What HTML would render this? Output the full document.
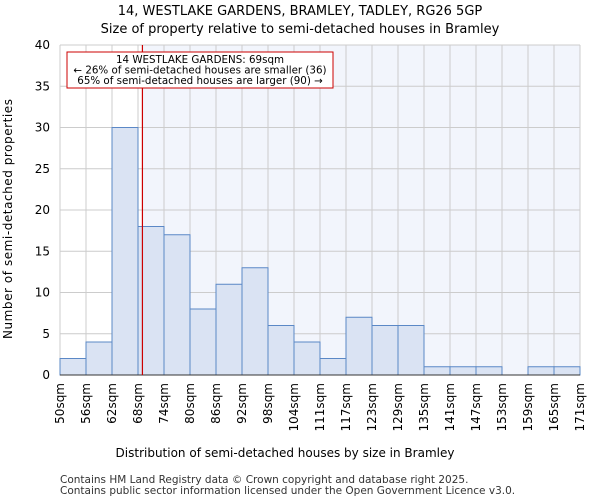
<!DOCTYPE html>
<html><head><meta charset="utf-8"><style>
body{margin:0;background:#fff;font-family:"DejaVu Sans","Liberation Sans",sans-serif;}
</style></head><body>
<svg width="600" height="500" xmlns="http://www.w3.org/2000/svg" font-family="DejaVu Sans, Liberation Sans, sans-serif">
<text x="300" y="15" text-anchor="middle" font-size="13">14, WESTLAKE GARDENS, BRAMLEY, TADLEY, RG26 5GP</text>
<text x="300" y="33" text-anchor="middle" font-size="13">Size of property relative to semi-detached houses in Bramley</text>
<g id="plot"></g>
<text x="285" y="457" text-anchor="middle" font-size="12">Distribution of semi-detached houses by size in Bramley</text>
<text transform="translate(12,219) rotate(-90)" text-anchor="middle" font-size="12" textLength="240">Number of semi-detached properties</text>
<text x="60" y="483" font-size="10.5" fill="#333">Contains HM Land Registry data © Crown copyright and database right 2025.</text>
<text x="60" y="494" font-size="10.5" fill="#333">Contains public sector information licensed under the Open Government Licence v3.0.</text>
</svg>
<script>
const binLabels=["50sqm","56sqm","62sqm","68sqm","74sqm","80sqm","86sqm","92sqm","98sqm","104sqm","111sqm","117sqm","123sqm","129sqm","135sqm","141sqm","147sqm","153sqm","159sqm","165sqm","171sqm"];
const counts=[2,4,30,18,17,8,11,13,6,4,2,7,6,6,1,1,1,0,1,1];
const yTicks=[0,5,10,15,20,25,30,35,40];
const propertyBinPos=[3.17];
const NS="http://www.w3.org/2000/svg";
const g=document.getElementById('plot');
const X0=60,X1=580,Y0=375,Y1=45,yMax=40;
const bw=(X1-X0)/counts.length;
const xs=i=>X0+i*bw;
const ys=v=>Y0-(v/yMax)*(Y0-Y1);
function mk(t,a){const e=document.createElementNS(NS,t);for(const k in a)e.setAttribute(k,a[k]);g.appendChild(e);return e;}
const px=xs(propertyBinPos[0]);
let r=mk('rect',{x:px,y:Y1,width:X1-px,height:Y0-Y1,fill:'#f2f5fc'});


yTicks.forEach(t=>{const l=mk('line',{x1:X0,x2:X1,y1:ys(t),y2:ys(t),stroke:'#ccc','stroke-width':1});


const tx=mk('text',{x:X0-10,y:ys(t)+4,'text-anchor':'end','font-size':12});tx.textContent=t;

});
binLabels.forEach((b,i)=>{const l=mk('line',{x1:xs(i),x2:xs(i),y1:Y1,y2:Y0,stroke:'#ccc','stroke-width':1});


const tx=mk('text',{transform:`translate(${xs(i)+4},${Y0+8}) rotate(-90)`,'text-anchor':'end','font-size':12});tx.textContent=b;

});
counts.forEach((v,i)=>{if(v<=0)return;const b=mk('rect',{x:xs(i),y:ys(v),width:bw,height:Y0-ys(v),fill:'#dae3f3',stroke:'#5b88c6','stroke-width':1});

});
const ax=mk('line',{x1:X0,x2:X1,y1:Y0,y2:Y0,stroke:'#333'});


const pl=mk('line',{x1:px,x2:px,y1:Y1,y2:Y0,stroke:'#cc0000','stroke-width':1.2});


const box=mk('rect',{x:67,y:52,width:266,height:36,fill:'#fff',stroke:'#cc0000','stroke-width':1});


["14 WESTLAKE GARDENS: 69sqm","← 26% of semi-detached houses are smaller (36)","65% of semi-detached houses are larger (90) →"].forEach((s,i)=>{const t=mk('text',{x:200,y:63+i*10.5,'text-anchor':'middle','font-size':10.3});t.textContent=s;

});
</script>
</body></html>
